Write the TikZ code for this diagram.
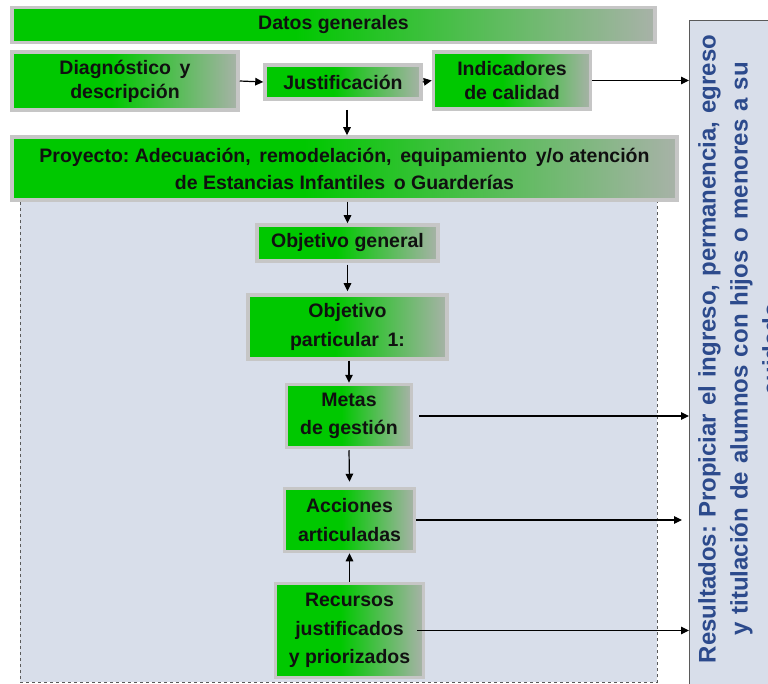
\documentclass[tikz,border=0pt]{standalone}
\usepackage{fontspec}
\setmainfont{Liberation Sans}
\usetikzlibrary{arrows.meta}
\frenchspacing
\definecolor{gboxgreen}{RGB}{0,200,0}
\definecolor{gboxgray}{RGB}{168,178,168}
\definecolor{gboxborder}{RGB}{198,198,198}
\definecolor{panelfill}{RGB}{216,222,234}
\definecolor{panelborder}{RGB}{90,90,90}
\definecolor{restext}{RGB}{44,74,140}
\definecolor{boxtext}{RGB}{16,16,16}
\pgfdeclarehorizontalshading{gboxshade}{100bp}{color(0bp)=(gboxgreen); color(25bp)=(gboxgreen); color(47bp)=(gboxgreen); color(75bp)=(gboxgray); color(100bp)=(gboxgray)}
\begin{document}
\begin{tikzpicture}[x=1pt,y=-1pt,
  gbox/.style={draw=gboxborder, line width=3.5pt, shading=gboxshade, inner sep=0pt, align=center,
    text=boxtext, font=\bfseries\fontsize{19.5}{28.5}\selectfont},
  tight/.style={font=\bfseries\fontsize{19.5}{24}\selectfont},
  arr/.style={-{Triangle[length=8pt,width=7.5pt]}, line width=1.2pt, black}]
\useasboundingbox (0,0) rectangle (768,684);
\clip (0,0) rectangle (768,684);
% panels
\node[draw=panelborder, dashed, line width=0.8pt, fill=panelfill, anchor=north west, inner sep=0pt,
  minimum width=637pt, minimum height=482pt] (panel) at (20,200) {};
\node[draw=panelborder, line width=1pt, fill=panelfill, anchor=north west, inner sep=0pt,
  minimum width=120pt, minimum height=690pt] (resbox) at (689,20) {};
\node[rotate=90, text width=660pt, align=center, text=restext,
  font=\bfseries\fontsize{24}{32}\selectfont] (restxt) at (739,349)
  {Resultados: Propiciar el ingreso, permanencia, egreso\\ y titulación de alumnos con hijos o menores a su\\ cuidado};
% boxes
\node[gbox, minimum width=643pt, minimum height=35pt] (dg) at (333.5,25) {\raisebox{-2pt}{Datos generales}};
\node[gbox, tight, minimum width=226pt, minimum height=58pt] (diag) at (125,81) {Diagnóstico\, y\\ descripción};
\node[gbox, minimum width=156pt, minimum height=34pt] (just) at (343,82) {Justificación};
\node[gbox, tight, minimum width=157pt, minimum height=57pt] (ind) at (512,80.5) {Indicadores\\ de calidad};
\node[gbox, font=\bfseries\fontsize{19.5}{27}\selectfont, minimum width=665pt, minimum height=63pt] (proy) at (344.5,168.5)
  {Proyecto: Adecuación,\, remodelación,\, equipamiento\, y/o atención\\ de Estancias Infantiles\, o Guarderías};
\node[gbox, minimum width=181pt, minimum height=36pt] (og) at (347.5,243) {\raisebox{-1pt}{Objetivo general}};
\node[gbox, minimum width=199pt, minimum height=64pt] (op) at (347.5,327) {Objetivo\\ particular\, 1:};
\node[gbox, minimum width=125pt, minimum height=63pt] (metas) at (349,416) {Metas\\ de gestión};
\node[gbox, minimum width=130pt, minimum height=63pt] (acc) at (349.5,520) {Acciones\\ articuladas};
\node[gbox, minimum width=148pt, minimum height=94pt] (rec) at (349.5,630.5) {Recursos\\ justificados\\ y priorizados};
% connectors
\coordinate (jd) at (347,110);
\draw[arr] (diag.east) -- (just.west);
\draw[arr] (just.east) -- (ind.west);
\draw[arr] (ind.east) -- (resbox.west |- ind.east);
\draw[arr] (jd) -- (proy.north -| jd);
\draw[arr] (proy.south -| og.north) -- (og.north);
\draw[arr] ([yshift=-2pt]og.south -| op.north) -- ([yshift=2pt]op.north);
\draw[arr] (op.south -| metas.north) -- (metas.north);
\draw[arr] ([yshift=-1pt]metas.south) -- ([yshift=5pt]acc.north);
\draw[arr] (rec.north -| acc.south) -- (acc.south);
\draw[arr] ([xshift=6pt]metas.east) -- (resbox.west |- metas.east);
\draw[arr] (acc.east) -- ([xshift=-7pt]resbox.west |- acc.east);
\draw[arr] ([xshift=-8pt]rec.east) -- (resbox.west |- rec.east);
\end{tikzpicture}
\end{document}
